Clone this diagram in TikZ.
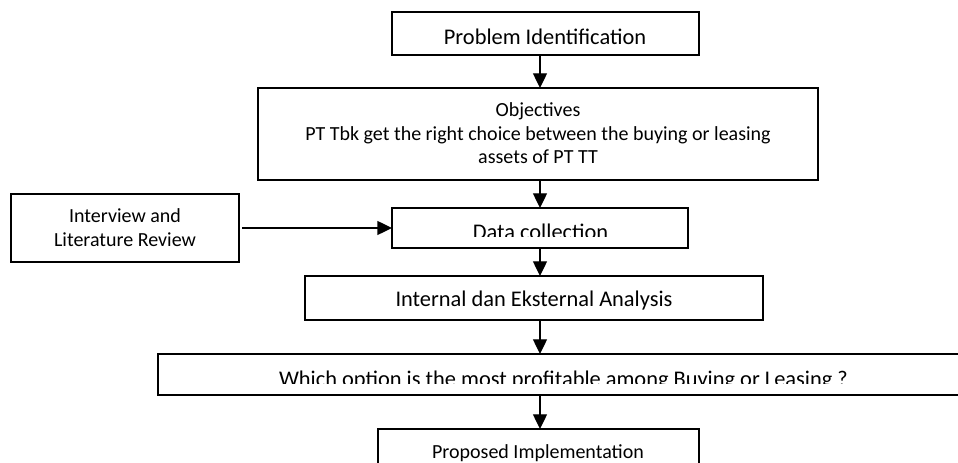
\documentclass[tikz,border=0pt]{standalone}
\usepackage{fontspec}
\setmainfont{Carlito}
\usetikzlibrary{arrows.meta}
\begin{document}
\begin{tikzpicture}[x=0.75pt, y=-0.75pt,
  box/.style={draw, line width=1.3pt, inner sep=0pt, outer sep=0pt, fill=white},
  bigtext/.style={font=\fontsize{16.8}{20}\selectfont, inner sep=0pt, anchor=base},
  smalltext/.style={font=\fontsize{15}{18}\selectfont, inner sep=0pt, anchor=base},
  arr/.style={line width=1pt, -{Triangle[length=11pt,width=10.5pt]}}]
\clip (0,0) rectangle (958,463);
\fill[white] (0,0) rectangle (958,463);
% boxes
\node[box, minimum width=230.25pt, minimum height=32.25pt] (prob) at (545.5,33.5) {};
\node[box, minimum width=420pt, minimum height=69pt] (obj) at (538,134) {};
\node[box, minimum width=171pt, minimum height=51pt] (lit) at (125,228) {};
\node[box, minimum width=222pt, minimum height=30pt] (data) at (540,228) {};
\node[box, minimum width=343.5pt, minimum height=33pt] (ana) at (534,298) {};
\node[box, minimum width=608.25pt, minimum height=30.75pt] (que) at (563.5,374.5) {};
\node[box, minimum width=240.75pt, minimum height=38.25pt] (prop) at (538.5,454.5) {};
% texts
\node[bigtext] (probt) at (545,45) {Problem Identification};
\node[smalltext] (objt1) at (538,117) {Objectives};
\node[smalltext] (objt2) at (538,140.5) {PT Tbk get the right choice between the buying or leasing};
\node[smalltext] (objt3) at (538,164) {assets of PT TT};
\node[smalltext] (litt1) at (125,223) {Interview and};
\node[smalltext] (litt2) at (125,247) {Literature Review};
\begin{scope}
  \clip (392,208) rectangle (688,237);
  \node[bigtext] (datat) at (540.5,239.5) {Data collection};
\end{scope}
\node[bigtext] (anat) at (534,307) {Internal dan Eksternal Analysis};
\begin{scope}
  \clip (158,354) rectangle (958,384);
  \node[bigtext] (quet) at (563.5,386.5) {Which option is the most profitable among Buying or Leasing ?};
\end{scope}
\node[smalltext] (propt) at (538,459) {Proposed Implementation};
% connectors
\coordinate (ax) at (540,0);
\draw[arr] (prob.south -| ax) -- (obj.north -| ax);
\draw[arr] (obj.south -| ax) -- (data.north -| ax);
\draw[arr, shorten <=2.25pt] (lit.east) -- (data.west);
\draw[arr] (data.south -| ax) -- (ana.north -| ax);
\draw[arr] (ana.south -| ax) -- (que.north -| ax);
\draw[arr] (que.south -| ax) -- (prop.north -| ax);
\end{tikzpicture}
\end{document}
